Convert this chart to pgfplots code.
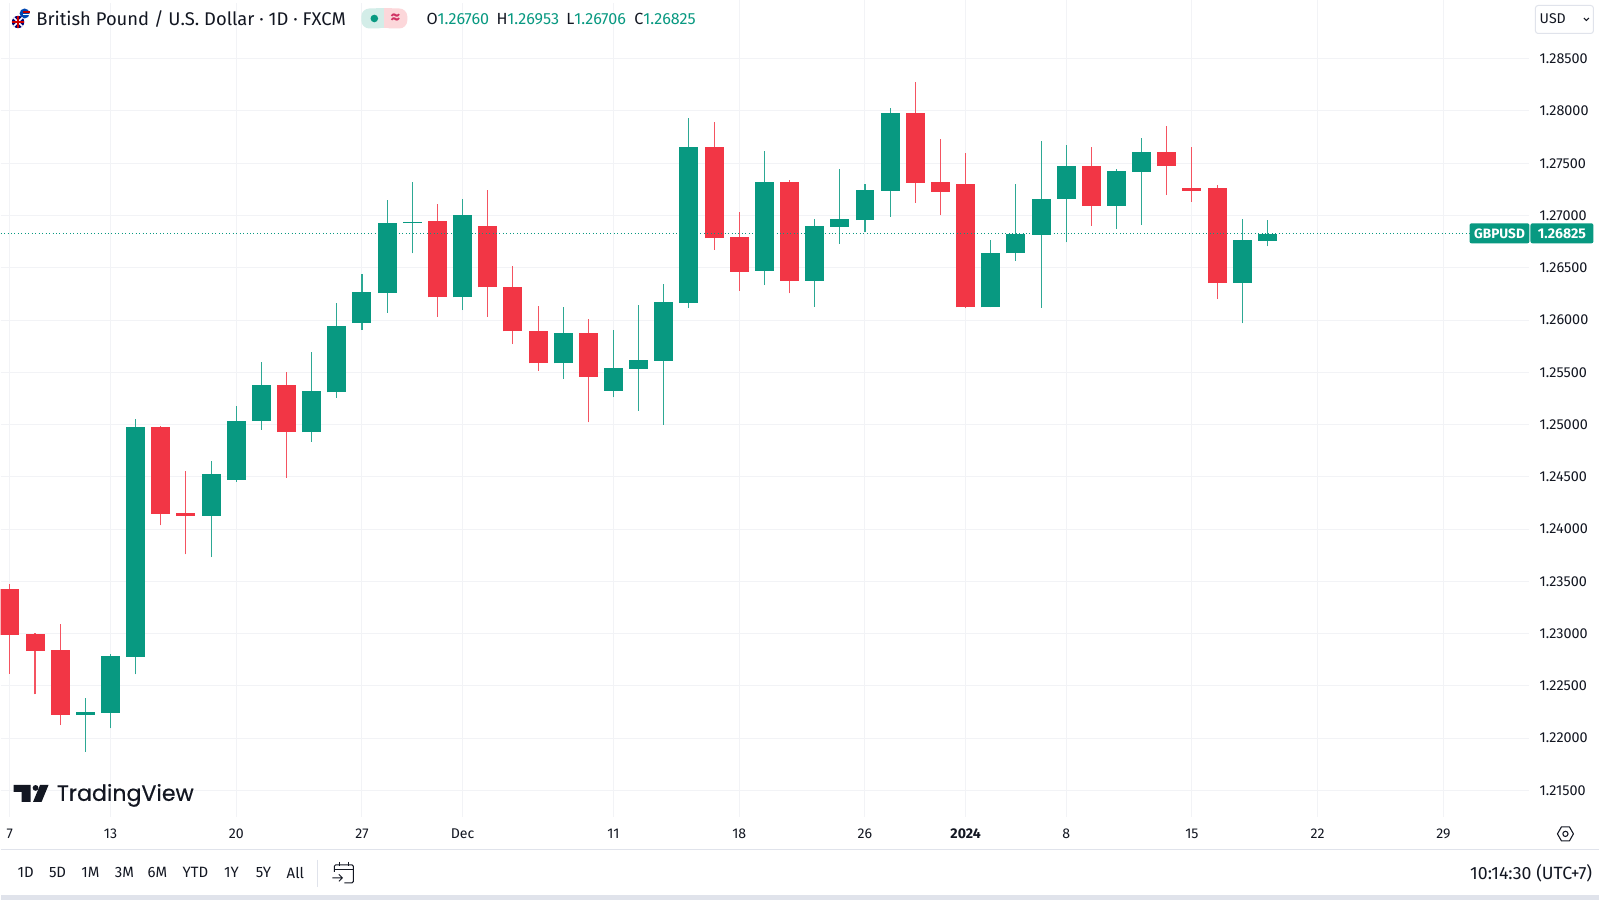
\documentclass[border=0pt]{standalone}
\usepackage{fontspec}
\usepackage{pgfplots}
\usepackage{pgfplotstable}
\pgfplotsset{compat=1.18}
\setmainfont{Fira Sans}
\newfontfamily\tvfont[FakeBold=0.4]{Poppins}
\definecolor{up}{HTML}{089981}
\definecolor{down}{HTML}{F23645}
\definecolor{ink}{HTML}{131722}
\definecolor{gridc}{HTML}{F2F3F6}
\definecolor{sepc}{HTML}{E0E3EB}

% i open high low close
\pgfplotstableread{
i o h l c
3 1.22220 1.22382 1.21869 1.22251
4 1.22245 1.22802 1.22095 1.22783
5 1.22777 1.25054 1.22611 1.24981
8 1.24130 1.24650 1.23732 1.24529
9 1.24474 1.25182 1.24452 1.25038
10 1.25032 1.25599 1.24952 1.25374
12 1.24927 1.25696 1.24834 1.25325
13 1.25309 1.26165 1.25257 1.25946
14 1.25971 1.26439 1.25907 1.26264
15 1.26258 1.27150 1.26070 1.26933
16 1.26927 1.27325 1.26637 1.26939
18 1.26216 1.27156 1.26095 1.27006
22 1.25586 1.26121 1.25436 1.25876
24 1.25325 1.25907 1.25261 1.25541
25 1.25532 1.26146 1.25133 1.25621
26 1.25611 1.26344 1.25000 1.26169
27 1.26162 1.27936 1.26114 1.27656
30 1.26471 1.27618 1.26334 1.27322
32 1.26376 1.26965 1.26127 1.26898
33 1.26892 1.27443 1.26732 1.26965
34 1.26955 1.27306 1.26841 1.27242
35 1.27236 1.28032 1.26987 1.27984
39 1.26121 1.26764 1.26121 1.26643
40 1.26637 1.27299 1.26567 1.26822
41 1.26815 1.27710 1.26118 1.27162
42 1.27159 1.27672 1.26742 1.27471
44 1.27092 1.27443 1.26869 1.27424
45 1.27417 1.27745 1.26908 1.27608
49 1.26353 1.26962 1.25968 1.26764
50 1.26760 1.26953 1.26706 1.26825
}\upcandles

\pgfplotstableread{
i o h l c
0 1.23430 1.23471 1.22618 1.22987
1 1.22993 1.23009 1.22420 1.22834
2 1.22841 1.23089 1.22124 1.22223
6 1.24981 1.24990 1.24035 1.24146
7 1.24156 1.24554 1.23758 1.24130
11 1.25374 1.25501 1.24490 1.24927
17 1.26943 1.27108 1.26032 1.26216
19 1.26895 1.27245 1.26032 1.26312
20 1.26318 1.26513 1.25770 1.25892
21 1.25898 1.26137 1.25516 1.25586
23 1.25876 1.26009 1.25022 1.25458
28 1.27656 1.27898 1.26672 1.26783
29 1.26790 1.27038 1.26280 1.26462
31 1.27322 1.27344 1.26255 1.26376
36 1.27984 1.28277 1.27121 1.27315
37 1.27322 1.27729 1.27003 1.27226
38 1.27299 1.27602 1.26111 1.26121
43 1.27471 1.27656 1.26901 1.27092
46 1.27608 1.27857 1.27194 1.27474
47 1.27267 1.27656 1.27130 1.27236
48 1.27267 1.27290 1.26200 1.26353
}\downcandles

\begin{document}
\begin{tikzpicture}
\begin{scope}[x=0.75pt,y=-0.75pt]
\path[use as bounding box,fill=white] (0,0) rectangle (1600,900);
\end{scope}

\begin{axis}[
    at={(0,0)},
    anchor=north west,
    scale only axis,
    width=1147.5pt,
    height=612.75pt,
    xmin=-0.369, xmax=60.42,
    ymin=1.21247, ymax=1.29057,
    axis line style={draw=none},
    major tick length=0pt,
    tick style={draw=none},
    ytick pos=right,
    xtick pos=bottom,
    grid=major,
    grid style={gridc,line width=0.75pt},
    xtick={0,4,9,14,18,24,29,34,38,42,47,52,57},
    xticklabels={7,13,20,27,Dec,11,18,26,\textbf{2024},8,15,22,29},
    ytick={1.215,1.22,1.225,1.23,1.235,1.24,1.245,1.25,1.255,1.26,1.265,1.27,1.275,1.28,1.285},
    scaled y ticks=false,
    yticklabel style={
        /pgf/number format/fixed,
        /pgf/number format/fixed zerofill,
        /pgf/number format/precision=5,
        /pgf/number format/assume math mode=true,
        anchor=west, inner sep=0pt, xshift=7.5pt,
        font=\fontsize{10.8}{12}\selectfont, text=ink},
    xticklabel style={
        anchor=center, inner sep=0pt, yshift=-12.75pt,
        font=\fontsize{10.6}{12}\selectfont, text=ink},
]
% wicks
\addplot[draw=none,forget plot,error bars/.cd,y dir=plus,y explicit,error mark=none,
    error bar style={up!85,line width=0.8pt}]
    table[x=i,y=l,y error expr=\thisrow{h}-\thisrow{l}] {\upcandles};
\addplot[draw=none,forget plot,error bars/.cd,y dir=plus,y explicit,error mark=none,
    error bar style={down!85,line width=0.8pt}]
    table[x=i,y=l,y error expr=\thisrow{h}-\thisrow{l}] {\downcandles};
% bodies
\addplot[draw=none,forget plot,error bars/.cd,y dir=plus,y explicit,error mark=none,
    error bar style={up,line width=14.25pt}]
    table[x=i,y=o,y error expr=\thisrow{c}-\thisrow{o}] {\upcandles};
\addplot[draw=none,forget plot,error bars/.cd,y dir=plus,y explicit,error mark=none,
    error bar style={down,line width=14.25pt}]
    table[x=i,y=c,y error expr=\thisrow{o}-\thisrow{c}] {\downcandles};
% last price line
\addplot[up,line width=0.6pt,dotted] coordinates {(-0.369,1.26825) (60.42,1.26825)};
\end{axis}

\begin{scope}[x=0.75pt,y=-0.75pt,font=\fontsize{10.6}{12}\selectfont,text=ink]
% price tag
\fill[up,rounded corners=1.5pt] (1470,223) rectangle (1530,243);
\fill[up,rounded corners=1.5pt] (1531,223) rectangle (1594,243);
\node[text=white,font=\fontsize{10.2}{12}\selectfont\bfseries] at (1500,233.5) {GBPUSD};
\node[text=white,font=\fontsize{10.6}{12}\selectfont\bfseries] at (1562.5,233.5) {1.26825};

% header
\fill[white] (0,0) rectangle (720,3);
\fill[blue!60!cyan!70!black] (24,13) circle (5);
\fill[red!75!black] (22,11) rectangle (29,12.5);
\fill[white] (22,14) rectangle (29,15);
\fill[blue!45!black] (17.5,21.5) circle (6.2);
\draw[white,line width=1.2pt] (13,17) -- (22,26) (22,17) -- (13,26);
\draw[red!80!black,line width=1pt] (17.5,15.5) -- (17.5,27.5) (11.5,21.5) -- (23.5,21.5);
\node[anchor=west,inner sep=0pt,font=\fontsize{13.8}{16}\selectfont] at (35.5,18.5) {British Pound / U.S. Dollar · 1D · FXCM};
\fill[up!18,rounded corners=6pt] (361,8) rectangle (386,28);
\fill[down!20,rounded corners=6pt] (382,8) rectangle (407,28);
\fill[up!18] (376,8) rectangle (384,28);
\fill[down!20] (384,8) rectangle (392,28);
\fill[up] (374,18) circle (3.8);
\node[text={rgb,255:red,208;green,50;blue,100},font=\fontsize{14}{14}\selectfont\bfseries] at (395,18) {≈};
\node[anchor=west,inner sep=0pt,font=\fontsize{12.1}{14}\selectfont] at (426,18.5) {O\textcolor{up}{1.26760}};
\node[anchor=west,inner sep=0pt,font=\fontsize{12.1}{14}\selectfont] at (496,18.5) {H\textcolor{up}{1.26953}};
\node[anchor=west,inner sep=0pt,font=\fontsize{12.1}{14}\selectfont] at (566,18.5) {L\textcolor{up}{1.26706}};
\node[anchor=west,inner sep=0pt,font=\fontsize{12.1}{14}\selectfont] at (634,18.5) {C\textcolor{up}{1.26825}};

% currency box
\draw[sepc,fill=white,rounded corners=2pt,line width=0.75pt] (1536,5) rectangle (1594,33);
\node[anchor=west,inner sep=0pt] at (1540,18.5) {USD};
\draw[ink,line width=0.75pt] (1584.5,17.5) -- (1587,20) -- (1589.5,17.5);

% watermark
\fill[ink] (13,785) -- (30,785) -- (30,802) -- (21,802) -- (21,792) -- (13,792) -- cycle;
\fill[ink] (35,788) circle (2.9);
\fill[ink] (39.5,785) -- (48,785) -- (41,802) -- (32.5,802) -- cycle;
\node[anchor=west,inner sep=0pt,font=\tvfont\fontsize{16.6}{20}\selectfont] at (56,795.5) {TradingView};

% bottom bar
\draw[sepc,line width=0.9pt] (0,850) -- (1600,850);
\fill[sepc] (0,895) rectangle (1600,900);
\foreach \lab/\xx in {1D/25,5D/57,1M/90,3M/124,6M/157,YTD/195,1Y/231,5Y/263,All/295}
    \node[font=\fontsize{11.2}{12}\selectfont] at (\xx,873) {\lab};
\draw[sepc,line width=0.75pt] (317,860) -- (317,887);
\draw[ink,line width=0.7pt,rounded corners=1pt] (334,872) -- (334,865) -- (353,865) -- (353,883) -- (344,883);
\draw[ink,line width=0.7pt] (334,869.5) -- (353,869.5) (339,862) -- (339,866) (348,862) -- (348,866);
\draw[ink,line width=0.7pt] (332,878) -- (342,878) (338.5,874.5) -- (342,878) -- (338.5,881.5);
\node[anchor=east,inner sep=0pt,font=\fontsize{13.3}{15}\selectfont] at (1593,873) {10:14:30 (UTC+7)};

% settings hexagon
\draw[ink,line width=0.8pt,line join=round] (1558,834) -- (1562,827) -- (1570,827) -- (1574,834) -- (1570,841) -- (1562,841) -- cycle;
\draw[ink,line width=0.8pt] (1566,834) circle (2.6);
\end{scope}
\end{tikzpicture}
\end{document}
